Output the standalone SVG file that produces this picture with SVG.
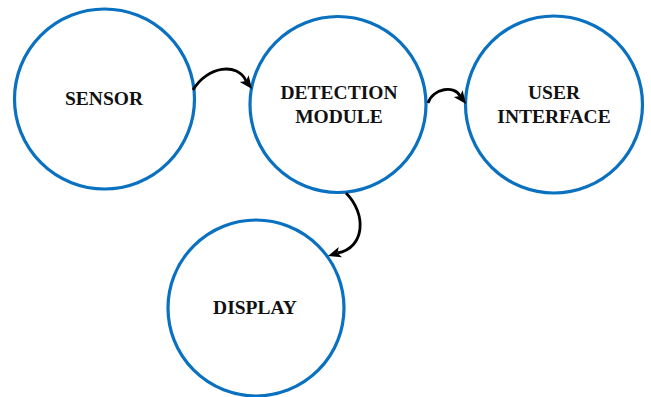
<svg xmlns="http://www.w3.org/2000/svg" width="651" height="397" viewBox="0 0 651 397">
<style>
.node{fill:#ffffff;stroke:#0a70c0;stroke-width:3.2}
.lbl{font-family:"Liberation Serif","DejaVu Serif","Times New Roman",serif;font-weight:bold;font-size:19.5px;fill:#111;text-anchor:middle}
.conn{fill:none;stroke:#000;stroke-width:2.8}
.head{fill:#000;stroke:none}
</style>
<rect width="651" height="397" fill="#ffffff"/>
<g id="sensor">
<circle class="node" cx="104.5" cy="99" r="90"/>
<text class="lbl" x="104" y="105">SENSOR</text>
</g>
<g id="detection">
<circle class="node" cx="338" cy="104.5" r="88"/>
<text class="lbl" x="339" y="99">DETECTION</text>
<text class="lbl" x="339" y="123">MODULE</text>
</g>
<g id="user-interface">
<circle class="node" cx="554" cy="104.5" r="88.5"/>
<text class="lbl" x="554" y="99">USER</text>
<text class="lbl" x="554" y="123">INTERFACE</text>
</g>
<g id="display">
<circle class="node" cx="256" cy="308" r="88"/>
<text class="lbl" x="255" y="314">DISPLAY</text>
</g>
<g id="connectors">
<path class="conn" d="M193,90 C207,66 238,62 246,81"/>
<polygon class="head" points="252,89 239.8,81.9 246,81 248.6,75.3"/>
<path class="conn" d="M428,103 C433,88 455,85 460,96"/>
<polygon class="head" points="466,104 453.8,96.9 460,96 462.6,90.3"/>
<path class="conn" d="M346,193 C367,214 365,248 337.5,253"/>
<polygon class="head" points="328,256 338.7,246.9 337.5,253 342,257.3"/>
</g>
</svg>
